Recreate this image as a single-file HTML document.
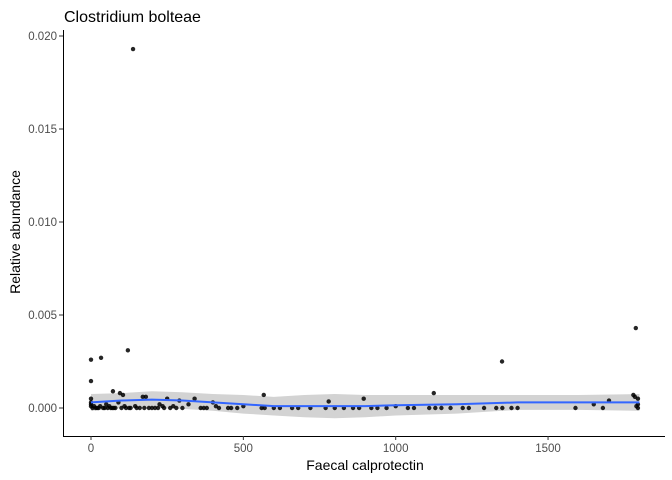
<!DOCTYPE html>
<html><head><meta charset="utf-8"><style>
body{margin:0;background:#fff;}
svg{display:block;font-family:"Liberation Sans",Arial,sans-serif;}
</style></head><body>
<svg id="chart" width="672" height="480" viewBox="0 0 672 480">
<text x="64" y="22" font-size="16" fill="#000">Clostridium bolteae</text>
<g id="band"></g>
<g id="pts"></g>
<g id="line"></g>
<g id="axes"></g>
<text x="365" y="470" font-size="14" text-anchor="middle" fill="#000">Faecal calprotectin</text>
<text transform="translate(20,232) rotate(-90)" font-size="14" text-anchor="middle" fill="#000">Relative abundance</text>
</svg>
<script>
const xVals=[138,0,33,121,0,72,95,105,1125,1349,1788,567,780,895,
0,0,0,0,5,10,15,20,25,30,40,45,50,55,60,65,70,75,80,90,100,110,115,125,130,145,150,160,170,175,180,190,200,210,220,225,235,240,250,260,270,280,290,300,320,340,360,370,380,400,410,420,450,460,480,500,560,570,600,620,660,680,720,770,800,830,860,880,920,940,970,1000,1040,1060,1110,1130,1150,1180,1220,1240,1290,1330,1350,1380,1400,1590,1650,1680,1700,1780,1785,1790,1795,1795,1795];
const yVals=[0.0193,0.0026,0.0027,0.0031,0.00145,0.0009,0.0008,0.0007,0.0008,0.0025,0.0043,0.0007,0.00035,0.0005,
0.0005,0.0003,0.0001,0.0002,0,0.0001,0,0,0,0.0001,0,0,0.0002,0,0.0001,0,0,0,0,0.0003,0,0.0001,0,0,0,0.0001,0,0,0.0006,0,0.0006,0,0,0,0,0.0002,0.0001,0,0.0005,0,0.0001,0,0.0004,0,0.0002,0.0005,0,0,0,0.0003,0.0001,0,0,0,0,0.0001,0,0,0,0,0,0,0,0,0,0,0,0,0,0,0,0.0001,0,0,0,0,0,0,0,0,0,0,0,0,0,0,0.0002,0,0.0004,0.0007,0.0006,0.0001,0,0.0002,0.0005];
const smX=[0,100,200,300,400,500,600,700,800,900,1000,1200,1400,1600,1800];
const smY=[0.0003,0.0004,0.00045,0.0004,0.0003,0.0002,0.0001,0.0001,0.0001,0.0001,0.00015,0.0002,0.0003,0.0003,0.0003];
const smSE=[0.00045,0.0004,0.00045,0.00045,0.00045,0.0005,0.0005,0.0006,0.00065,0.0006,0.00055,0.0005,0.0004,0.0004,0.00045];
const xTicks=[0,500,1000,1500];
const yTicks=[0,0.005,0.01,0.015,0.02];
const yTickLabels=["0.000","0.005","0.010","0.015","0.020"];
const X=v=>91+v*0.3047, Y=v=>408-v*18600;
const NS="http://www.w3.org/2000/svg";
function mk(t,a,p){const e=document.createElementNS(NS,t);for(const k in a)e.setAttribute(k,a[k]);p.appendChild(e);return e;}
const band=document.getElementById('band');
let up=smX.map((x,i)=>X(x)+","+Y(smY[i]+smSE[i])).join(" ");
let lo=smX.slice().reverse().map((x,j)=>{const i=smX.length-1-j;return X(x)+","+Y(smY[i]-smSE[i]);}).join(" ");
const bp=mk('polygon',{points:up+" "+lo,fill:"#d3d3d3"},band);


const pts=document.getElementById('pts');
xVals.forEach((x,i)=>{const c=mk('circle',{cx:X(x),cy:Y(yVals[i]),r:2.2,fill:"#000",'fill-opacity':0.85},pts);

});
const ln=mk('polyline',{points:smX.map((x,i)=>X(x)+","+Y(smY[i])).join(" "),fill:"none",stroke:"#3366ff",'stroke-width':2},document.getElementById('line'));


const ax=document.getElementById('axes');
mk('line',{x1:63.5,y1:30,x2:63.5,y2:436.5,stroke:"#000"},ax);
mk('line',{x1:63,y1:436.5,x2:665,y2:436.5,stroke:"#000"},ax);
xTicks.forEach(v=>{mk('line',{x1:X(v),x2:X(v),y1:436,y2:440,stroke:"#333"},ax);
const t=mk('text',{x:X(v),y:452,'font-size':11.5,'text-anchor':'middle',fill:"#4d4d4d"},ax);t.textContent=v;

});
yTicks.forEach((v,i)=>{mk('line',{x1:59,x2:63,y1:Y(v),y2:Y(v),stroke:"#333"},ax);
const t=mk('text',{x:57,y:Y(v)+4,'font-size':11.5,'text-anchor':'end',fill:"#4d4d4d"},ax);t.textContent=yTickLabels[i];

});
</script>
</body></html>
